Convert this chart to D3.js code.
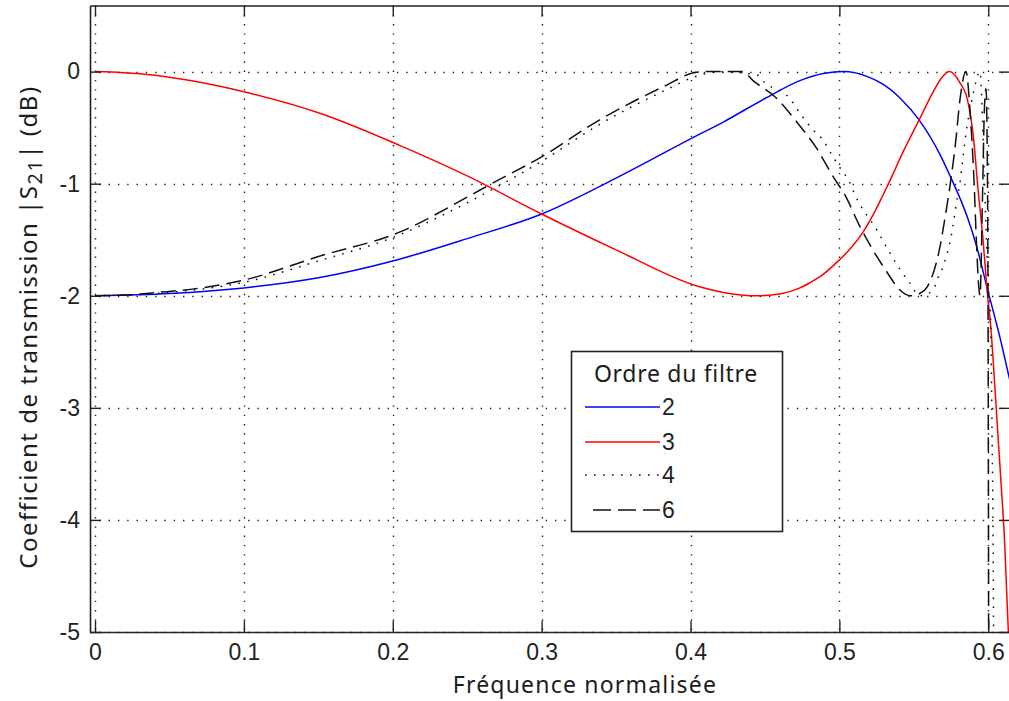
<!DOCTYPE html>
<html>
<head>
<meta charset="utf-8">
<script src="https://cdn.jsdelivr.net/npm/d3@7"></script>
<style>
  html, body { margin: 0; padding: 0; background: #fff; overflow: hidden; }
  svg { display: block; }
  .tick-label { font-family: "Liberation Sans Narrow", "Arial Narrow", "Liberation Sans", sans-serif; font-size: 23px; fill: #222; }
  .axis-title { font-family: "Noto Sans", "Open Sans", sans-serif; font-size: 23px; fill: #1c1c1c; letter-spacing: 1.2px; }
  .y-title { font-family: "Noto Sans", "Open Sans", sans-serif; font-size: 24px; fill: #1c1c1c; letter-spacing: 1.5px; }
  .legend-title { font-family: "Noto Sans", "Open Sans", sans-serif; font-size: 23px; fill: #1c1c1c; letter-spacing: 0.7px; }
</style>
</head>
<body>
<svg id="chart" width="1009" height="701"></svg>
<script>
// Axis ticks
const xTicks = [0, 0.1, 0.2, 0.3, 0.4, 0.5, 0.6];
const xTickLabels = ["0", "0.1", "0.2", "0.3", "0.4", "0.5", "0.6"];
const yTicks = [0, -1, -2, -3, -4, -5];
const yTickLabels = ["0", "-1", "-2", "-3", "-4", "-5"];

// Filter orders shown in the legend
const orders = ["2", "3", "4", "6"];

// |S21| (dB) versus normalised frequency, one pair of arrays per filter order
const freqOrder2 = [0, 0.05, 0.1, 0.15, 0.2, 0.25, 0.3, 0.35, 0.4, 0.422, 0.45, 0.4735, 0.49, 0.503,
  0.518, 0.529, 0.541, 0.5535, 0.5676, 0.574, 0.586, 0.592, 0.6, 0.6034, 0.608, 0.6132, 0.6146];
const s21Order2 = [-2.0, -1.98, -1.93, -1.84, -1.69, -1.49, -1.27, -0.95, -0.6, -0.45, -0.24, -0.08, -0.015, 0,
  -0.04, -0.11, -0.24, -0.43, -0.74, -0.92, -1.3, -1.55, -1.97, -2.14, -2.38, -2.68, -2.76];

const freqOrder3 = [0, 0.019, 0.039, 0.064, 0.1, 0.153, 0.205, 0.25, 0.3, 0.35, 0.406, 0.422, 0.445, 0.46,
  0.4735, 0.48, 0.487, 0.5, 0.508, 0.516, 0.523, 0.529, 0.533, 0.543, 0.554, 0.563, 0.569, 0.574, 0.581,
  0.586, 0.59, 0.593, 0.5965, 0.599, 0.602, 0.605, 0.608, 0.611, 0.6135, 0.6146];
const s21Order3 = [0, -0.01, -0.03, -0.08, -0.18, -0.38, -0.66, -0.93, -1.27, -1.59, -1.92, -1.97, -2.0, -1.985,
  -1.93, -1.885, -1.83, -1.68, -1.57, -1.43, -1.27, -1.11, -1.0, -0.71, -0.42, -0.18, -0.05, 0, -0.1,
  -0.25, -0.58, -1.03, -1.5, -1.92, -2.33, -2.93, -3.55, -4.2, -5.0, -5.4];

const freqOrder4 = [0, 0.05, 0.1, 0.15, 0.2, 0.25, 0.3, 0.339, 0.384, 0.402, 0.42, 0.4447, 0.45, 0.466,
  0.4735, 0.4823, 0.489, 0.4957, 0.5, 0.507, 0.5105, 0.525, 0.534, 0.541, 0.547, 0.554, 0.563,
  0.5655, 0.5696, 0.5755, 0.579, 0.581, 0.5823, 0.5857, 0.5877, 0.59, 0.5944, 0.5958, 0.597,
  0.5985, 0.6, 0.6015, 0.6026, 0.6034, 0.6037];
const s21Order4 = [-2.0, -1.97, -1.88, -1.69, -1.48, -1.17, -0.8, -0.47, -0.16, -0.05, 0, -0.03, -0.1, -0.23,
  -0.37, -0.52, -0.61, -0.76, -0.85, -0.99, -1.1, -1.41, -1.62, -1.77, -1.88, -2.0, -1.95,
  -1.86, -1.74, -1.44, -1.14, -0.99, -0.85, -0.49, -0.34, -0.19, 0, -0.3, -0.8,
  -1.4, -1.9, -2.2, -3.3, -4.5, -5.5];

const freqOrder6 = [0, 0.026, 0.042, 0.059, 0.1, 0.15, 0.205, 0.25, 0.265, 0.3, 0.339, 0.384, 0.402, 0.41,
  0.435, 0.442, 0.458, 0.472, 0.485, 0.495, 0.5045, 0.513, 0.522, 0.532, 0.54, 0.548, 0.554,
  0.559, 0.563, 0.567, 0.571, 0.5745, 0.578, 0.581, 0.585, 0.588, 0.5905, 0.592, 0.5935, 0.5945,
  0.596, 0.5975, 0.5985, 0.5995, 0.6, 0.6003];
const s21Order6 = [-2.0, -1.99, -1.97, -1.95, -1.86, -1.65, -1.43, -1.12, -1.01, -0.76, -0.43, -0.12, -0.01, 0,
  0, -0.08, -0.24, -0.46, -0.69, -0.92, -1.12, -1.36, -1.58, -1.79, -1.94, -2.0, -1.98,
  -1.92, -1.8, -1.6, -1.3, -1.0, -0.64, -0.25, 0, -0.4, -1.0, -1.5, -1.9, -2.0,
  -1.2, -0.3, -0.15, -1.0, -3.0, -5.5];

const series = [
  { name: orders[0], x: freqOrder2, y: s21Order2, color: "#0000ff", dash: null, legendDash: null },
  { name: orders[1], x: freqOrder3, y: s21Order3, color: "#ff0000", dash: null, legendDash: null },
  { name: orders[2], x: freqOrder4, y: s21Order4, color: "#111", dash: "1.6,7.4", legendDash: "1.6,7.4" },
  { name: orders[3], x: freqOrder6, y: s21Order6, color: "#111", dash: "15,7", legendDash: "18,7" }
];

const svg = d3.select("#chart");
const plotLeft = 90, plotRight = 1010, plotTop = 5.5, plotBottom = 632;

const x = d3.scaleLinear().domain([-0.00336, 0.6146]).range([plotLeft, plotRight]);
const y = d3.scaleLinear().domain([-5, 0.59]).range([plotBottom, plotTop]);

svg.append("defs").append("clipPath").attr("id", "plot-clip")
  .append("rect").attr("x", plotLeft).attr("y", plotTop)
  .attr("width", plotRight - plotLeft).attr("height", plotBottom - plotTop);

// dotted grid
const grid = svg.append("g").attr("stroke", "#222").attr("stroke-width", 1.4)
  .attr("stroke-dasharray", "1.4,7.9");
grid.selectAll("line.gx").data(xTicks).join("line").attr("class", "gx")
  .attr("x1", d => Math.round(x(d)) + 0.5).attr("x2", d => Math.round(x(d)) + 0.5)
  .attr("y1", plotTop).attr("y2", plotBottom);
grid.selectAll("line.gy").data(yTicks).join("line").attr("class", "gy")
  .attr("y1", d => Math.round(y(d)) + 0.5).attr("y2", d => Math.round(y(d)) + 0.5)
  .attr("x1", plotLeft).attr("x2", plotRight);

// curves
const plot = svg.append("g").attr("clip-path", "url(#plot-clip)");
const line = d3.line().x(d => x(d[0])).y(d => y(d[1])).curve(d3.curveMonotoneX);
series.forEach(s => {
  plot.append("path")
    .datum(s.x.map((v, i) => [v, s.y[i]]))
    .attr("fill", "none")
    .attr("stroke", s.color)
    .attr("stroke-width", 1.5)
    .attr("stroke-dasharray", s.dash)
    .attr("d", line);
});

// axes box with inward ticks
const tickLen = 11;
const xAxisB = d3.axisBottom(x).tickValues(xTicks).tickSizeInner(-tickLen).tickSizeOuter(0)
  .tickFormat((d, i) => xTickLabels[i]).tickPadding(12);
const xAxisT = d3.axisTop(x).tickValues(xTicks).tickSizeInner(-tickLen).tickSizeOuter(0).tickFormat("");
const yAxisL = d3.axisLeft(y).tickValues(yTicks).tickSizeInner(-tickLen).tickSizeOuter(0)
  .tickFormat((d, i) => yTickLabels[i]).tickPadding(10);
const yAxisR = d3.axisRight(y).tickValues(yTicks).tickSizeInner(-tickLen).tickSizeOuter(0).tickFormat("");

function styleAxis(g) {
  g.select(".domain").attr("stroke", "#222").attr("stroke-width", 1.6);
  g.selectAll(".tick line").attr("stroke", "#222").attr("stroke-width", 1.4);
  g.selectAll(".tick text").attr("class", "tick-label").attr("fill", "#222");
  g.attr("font-family", null).attr("font-size", null);
}
svg.append("g").attr("transform", `translate(0,${plotBottom})`).call(xAxisB).call(styleAxis);
svg.append("g").attr("transform", `translate(0,${plotTop})`).call(xAxisT).call(styleAxis);
svg.append("g").attr("transform", `translate(${plotLeft},0)`).call(yAxisL).call(styleAxis);
svg.append("g").attr("transform", `translate(${plotRight},0)`).call(yAxisR).call(styleAxis);

// axis titles
svg.append("text").attr("class", "axis-title")
  .attr("x", 585).attr("y", 693).attr("text-anchor", "middle")
  .text("Fréquence normalisée");

const yt = svg.append("text").attr("class", "y-title")
  .attr("transform", "translate(37,327) rotate(-90)").attr("text-anchor", "middle");
yt.append("tspan").text("Coefficient de transmission |S");
yt.append("tspan").attr("dy", 5).attr("font-size", "20px").text("21");
yt.append("tspan").attr("dy", -5).text("|  (dB)");

// legend
const lg = svg.append("g").attr("transform", "translate(571,351)");
lg.append("rect").attr("x", 0.5).attr("y", 0.5).attr("width", 211).attr("height", 180)
  .attr("fill", "#fff").attr("stroke", "#222").attr("stroke-width", 1.6);
lg.append("text").attr("class", "legend-title").attr("x", 105).attr("y", 31)
  .attr("text-anchor", "middle").text("Ordre du filtre");
const rowY = [56, 91, 124, 159];
series.forEach((s, i) => {
  lg.append("line").attr("x1", s.legendDash && s.legendDash.startsWith("18") ? 22 : 14).attr("x2", 89)
    .attr("y1", rowY[i]).attr("y2", rowY[i])
    .attr("stroke", s.color).attr("stroke-width", 1.5).attr("stroke-dasharray", s.legendDash);
  lg.append("text").attr("class", "tick-label").attr("x", 91).attr("y", rowY[i] + 8).text(s.name);
});
</script>
</body>
</html>
